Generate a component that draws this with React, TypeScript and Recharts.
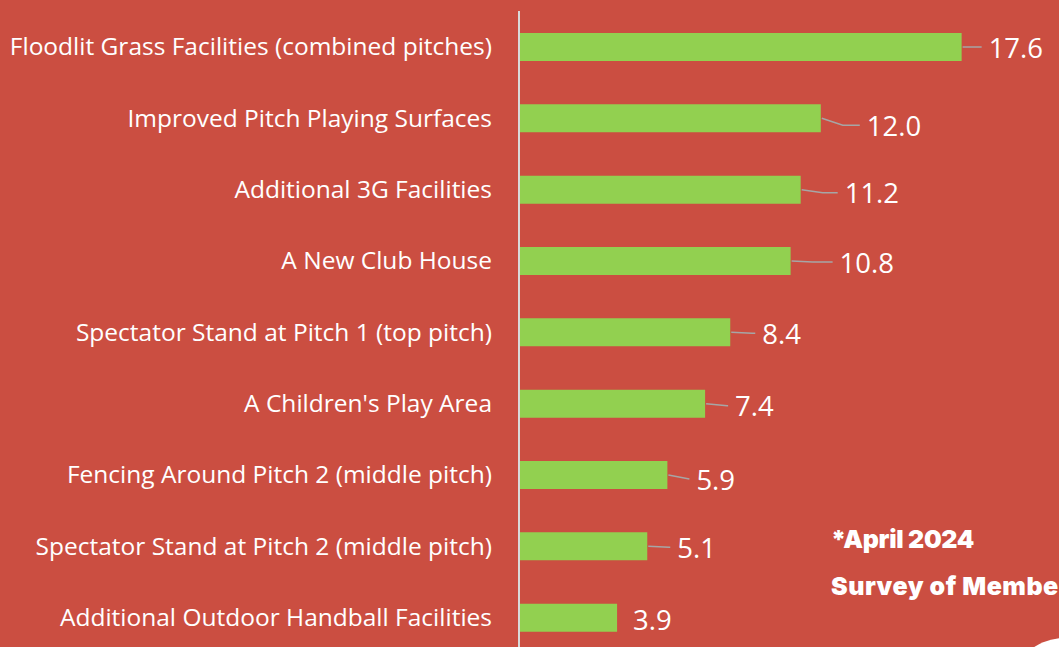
import React from "react";
import { BarChart, Bar, XAxis, YAxis, LabelList } from "recharts";

const categories = [
  "Floodlit Grass Facilities (combined pitches)",
  "Improved Pitch Playing Surfaces",
  "Additional 3G Facilities",
  "A New Club House",
  "Spectator Stand at Pitch 1 (top pitch)",
  "A Children's Play Area",
  "Fencing Around Pitch 2 (middle pitch)",
  "Spectator Stand at Pitch 2 (middle pitch)",
  "Additional Outdoor Handball Facilities",
];
const values = [17.6, 12.0, 11.2, 10.8, 8.4, 7.4, 5.9, 5.1, 3.9];
const noteLines = ["*April 2024", "Survey of Membe"];

// label placement nudges (dx from bar end, dy from bar centre)
const labelNudge = [
  [27, 0], [46, 7], [44, 3], [49, 1], [32, 1], [30, 2], [29, 4], [30, 1], [16, 2],
];

const data = categories.map((name, i) => ({ name, value: values[i] }));

const BG = "#CB4E41";
const GREEN = "#92D050";
const FONT = "'Open Sans', Lato, sans-serif";

const ValueLabel = (props: any) => {
  const { x, y, width, height, value, index } = props;
  const [dx, dy] = labelNudge[index] || [28, 0];
  const endX = x + width;
  const cy = y + height / 2;
  const lx = endX + dx;
  const ly = cy + dy;
  const showLine = dx > 20;
  const lineEnd = lx - 7;
  const bend = Math.min(endX + 22, lineEnd);
  return (
    <g>
      {showLine && (
        <polyline
          points={`${endX + 1},${cy} ${bend},${ly} ${lineEnd},${ly}`}
          fill="none"
          stroke="#A6A6A6"
          strokeWidth={1.5}
        />
      )}
      <text
        x={lx}
        y={ly}
        fill="#FFFFFF"
        fontSize={27.5}
        fontFamily={FONT}
        dominantBaseline="central"
        textAnchor="start"
      >
        {Number(value).toFixed(1)}
      </text>
    </g>
  );
};

export default function App() {
  return (
    <div
      style={{
        position: "fixed",
        left: 0,
        top: 0,
        width: 1059,
        height: 647,
        overflow: "hidden",
        background: BG,
      }}
    >
      <BarChart
        width={1059}
        height={660}
        data={data}
        layout="vertical"
        margin={{ top: 11, right: 37, left: 0, bottom: 7 }}
        barSize={28}
      >
        <XAxis type="number" domain={[0, 20]} hide />
        <YAxis
          type="category"
          dataKey="name"
          width={519}
          axisLine={{ stroke: "#D9D9D9", strokeWidth: 2 }}
          tickLine={false}
          tickSize={0}
          tickMargin={27}
          interval={0}
          tick={{
            fill: "#FFFFFF",
            fontSize: 24.5,
            fontFamily: FONT,
          }}
        />
        <Bar dataKey="value" fill={GREEN} isAnimationActive={false}>
          <LabelList dataKey="value" content={ValueLabel} />
        </Bar>
      </BarChart>
      <div
        style={{
          position: "absolute",
          left: 831,
          top: 516,
          color: "#FFFFFF",
          fontFamily: "Inter, Lato, sans-serif",
          fontWeight: 900,
          fontSize: 25,
          lineHeight: "47px",
          whiteSpace: "nowrap",
          letterSpacing: -0.3,
        }}
      >
        <div>{noteLines[0]}</div>
        <div style={{ letterSpacing: 0.5 }}>{noteLines[1]}</div>
      </div>
      <div
        style={{
          position: "absolute",
          left: 1008,
          top: 638,
          width: 114,
          height: 114,
          borderRadius: "50%",
          background: "#FFFFFF",
        }}
      />
    </div>
  );
}
